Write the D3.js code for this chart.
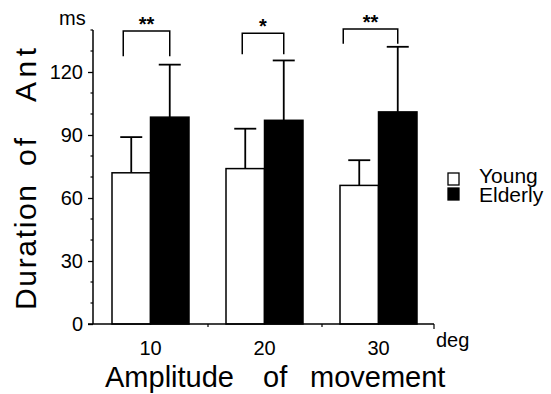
<html>
<head>
<meta charset="utf-8" />
<title>Duration of Ant</title>
<script src="https://cdn.jsdelivr.net/npm/d3@7"></script>
<style>
	body { margin: 0; background: #fff; }
	svg text { font-family: "Liberation Sans", Arial, sans-serif; fill: #000; }
</style>
</head>
<body>
<svg id="chart" width="551" height="394"></svg>
<script>
// 값들은 그림에서 읽은 것
const amplitudes = ['10', '20', '30'];
const groups = ['Young', 'Elderly'];
const youngMean = [72, 74, 66];
const youngSD = [89, 93, 78];      // 오차막대 끝값
const elderlyMean = [98.5, 97, 101];
const elderlySD = [123.5, 125.5, 132];
const sigLabels = ['**', '*', '**'];
const sigTop = [139.5, 138.5, 140.5];
const sigLeg = [127.5, 128.5, 133.5];
const yTicks = [0, 30, 60, 90, 120];

const svg = d3.select('#chart');

let yScale = d3.scaleLinear().domain([0, 140]).range([324, 30]);
let xScale = d3.scaleBand().domain(amplitudes).range([94, 436]).padding(0);
let inner = d3.scaleBand().domain(groups).range([18, 95]).padding(0);

let data = amplitudes.map((a, i) => ({
	amp: a,
	vals: [
		{ g: 'Young', mean: youngMean[i], top: youngSD[i] },
		{ g: 'Elderly', mean: elderlyMean[i], top: elderlySD[i] }
	]
}));

// y축
let yAxis = d3.axisLeft(yScale).tickValues(yTicks).tickSize(5).tickPadding(5).tickFormat(d3.format('d'));
let gy = svg.append('g').attr('transform', 'translate(93, 0)').call(yAxis);
gy.select('.domain').attr('stroke-width', 1.5).attr('d', 'M0,' + yScale(140) + 'V' + yScale(0));
gy.selectAll('.tick line').attr('stroke-width', 1.3);
gy.selectAll('.tick text').style('font-size', '20px');

// 작은 눈금
let minor = d3.range(10, 141, 10).filter(v => v % 30 !== 0);
gy.selectAll('line.minor').data(minor).enter()
	.append('line').attr('class', 'minor')
	.attr('x1', -2.5).attr('x2', 0)
	.attr('y1', d => yScale(d)).attr('y2', d => yScale(d))
	.attr('stroke', 'black').attr('stroke-width', 1.2);

// 막대
let gBars = svg.selectAll('g.grp').data(data).enter()
	.append('g').attr('class', 'grp')
	.attr('transform', d => 'translate(' + xScale(d.amp) + ', 0)');

gBars.each(function(d) {
	let g = d3.select(this);
	d.vals.forEach(v => {
		let cx = inner(v.g) + inner.bandwidth() / 2;
		// 오차막대 먼저
		g.append('line')
			.attr('x1', cx).attr('x2', cx)
			.attr('y1', yScale(v.mean)).attr('y2', yScale(v.top))
			.attr('stroke', 'black').attr('stroke-width', 1.8);
		g.append('line')
			.attr('x1', cx - 11).attr('x2', cx + 11)
			.attr('y1', yScale(v.top)).attr('y2', yScale(v.top))
			.attr('stroke', 'black').attr('stroke-width', 1.8);
		g.append('rect')
			.attr('x', inner(v.g))
			.attr('y', yScale(v.mean))
			.attr('width', inner.bandwidth())
			.attr('height', yScale(0) - yScale(v.mean))
			.attr('fill', v.g === 'Young' ? 'white' : 'black')
			.attr('stroke', 'black')
			.attr('stroke-width', 1.5);
	});
});

// x축
let gx = svg.append('g');
gx.append('line')
	.attr('x1', 88).attr('x2', xScale.range()[1] - 2)
	.attr('y1', yScale(0)).attr('y2', yScale(0))
	.attr('stroke', 'black').attr('stroke-width', 1.5);
gx.selectAll('line.sep').data(amplitudes.slice(1)).enter()
	.append('line').attr('class', 'sep')
	.attr('x1', d => xScale(d)).attr('x2', d => xScale(d))
	.attr('y1', yScale(0)).attr('y2', yScale(0) + 3)
	.attr('stroke', 'black').attr('stroke-width', 1.2);
gx.append('line')
	.attr('x1', xScale.range()[1] - 2).attr('x2', xScale.range()[1] - 2)
	.attr('y1', yScale(0)).attr('y2', yScale(0) + 5)
	.attr('stroke', 'black').attr('stroke-width', 1.2);
gx.selectAll('text.xl').data(amplitudes).enter()
	.append('text').attr('class', 'xl')
	.attr('x', d => xScale(d) + inner('Elderly'))
	.attr('y', 355)
	.attr('text-anchor', 'middle')
	.style('font-size', '20px')
	.text(d => d);

// 유의성 표시
let bracketShift = [-8, -3, -16];
data.forEach((d, i) => {
	let x0 = xScale(d.amp) + inner('Young') + inner.bandwidth() / 2 + bracketShift[i];
	let x1 = xScale(d.amp) + inner('Elderly') + inner.bandwidth() / 2;
	svg.append('path')
		.attr('d', 'M' + x0 + ',' + yScale(sigLeg[i]) + 'V' + yScale(sigTop[i]) + 'H' + x1 + 'V' + yScale(sigLeg[i]))
		.attr('fill', 'none').attr('stroke', 'black').attr('stroke-width', 1.5);
	svg.append('text')
		.attr('x', (x0 + x1) / 2)
		.attr('y', yScale(sigTop[i]) - 0)
		.attr('text-anchor', 'middle')
		.style('font-size', '20px').style('font-weight', 'bold')
		.text(sigLabels[i]);
});

// 축 제목
svg.append('text').attr('x', 59).attr('y', 25).style('font-size', '20px').text('ms');
svg.append('text').attr('x', 436).attr('y', 347).style('font-size', '20px').text('deg');

let xt = svg.append('text').attr('y', 387).style('font-size', '29px');
[['Amplitude', 105], ['of', 263], ['movement', 310]].forEach(w => {
	xt.append('tspan').attr('x', w[1]).text(w[0]);
});

// 세로 제목: 단어마다 위치와 길이
let yt = svg.append('text').attr('transform', 'translate(36, 0) rotate(-90)').style('font-size', '30px');
[['Duration', -310, 125], ['of', -166, 28], ['Ant', -102, 54]].forEach(w => {
	yt.append('tspan').attr('x', w[1]).attr('y', 0)
		.attr('textLength', w[2]).attr('lengthAdjust', 'spacing')
		.text(w[0]);
});

// 범례
let leg = svg.append('g').attr('transform', 'translate(448, 173)');
groups.forEach((g, i) => {
	leg.append('rect')
		.attr('x', 0).attr('y', i * 15)
		.attr('width', 11).attr('height', 12)
		.attr('fill', g === 'Young' ? 'white' : 'black')
		.attr('stroke', 'black').attr('stroke-width', 1.3);
	leg.append('text')
		.attr('x', 31).attr('y', 10 + i * 19)
		.style('font-size', '21px')
		.text(g);
});
</script>
</body>
</html>
